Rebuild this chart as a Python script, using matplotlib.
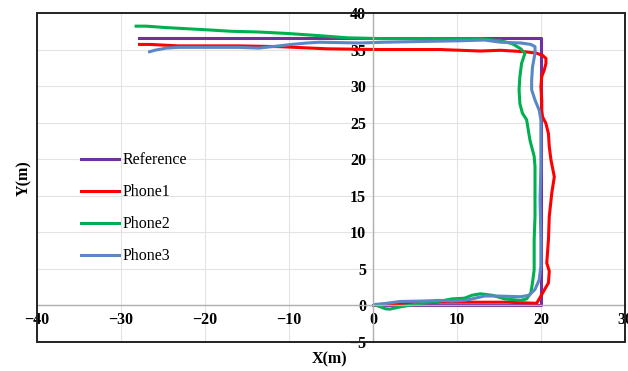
import matplotlib
matplotlib.use('Agg')
import matplotlib.pyplot as plt
from matplotlib.patches import Rectangle

plt.rcParams['font.family'] = ['Liberation Serif', 'DejaVu Serif']

# trajectories (m)
ref_x = [0, 20, 20, -27.8]
ref_y = [0, 0, 36.6, 36.6]

p1_x = [0.3, 2.5, 5.0, 8.0, 12.0, 16.0, 19.5, 20.2, 20.9, 21.0, 20.7, 20.9, 21.0, 21.3, 21.6, 21.2,
        21.0, 20.9, 20.6, 20.2, 20.1, 20.1, 20.0, 20.1, 20.4, 20.6, 20.6, 20.2, 19.5, 18.1, 15.2,
        12.8, 8.0, 0.8, -5.4, -11.2, -16.0, -23.2, -26.5, -27.8]
p1_y = [0.1, 0.25, 0.35, 0.45, 0.45, 0.45, 0.3, 1.7, 3.1, 4.7, 5.8, 9.0, 12.2, 15.4, 17.6, 19.9,
        21.7, 23.5, 24.9, 25.8, 26.7, 28.1, 29.9, 31.3, 32.2, 33.1, 33.8, 34.2, 34.5, 34.7, 34.9,
        34.8, 35.0, 35.0, 35.1, 35.4, 35.5, 35.5, 35.7, 35.7]

p2_x = [0.2, 1.5, 2.0, 3.2, 5.6, 8.0, 9.4, 10.9, 11.8, 12.8, 14.2, 15.7, 17.6, 18.3, 18.8, 19.0,
        19.2, 19.2, 19.3, 19.3, 19.3, 19.2, 18.9, 18.7, 18.5, 18.3, 17.8, 17.5, 17.4, 17.5, 17.7,
        18.1, 17.6, 16.6, 15.2, 12.8, 8.0, 0.8, -3.0, -6.4, -10.2, -13.6, -16.9, -19.8, -24.6,
        -27.0, -28.2]
p2_y = [0.1, -0.45, -0.5, -0.2, 0.27, 0.6, 0.9, 1.0, 1.4, 1.6, 1.4, 0.9, 0.7, 0.9, 1.7, 3.1,
        4.9, 9.0, 12.2, 16.3, 19.0, 20.4, 21.7, 22.6, 24.0, 25.4, 26.3, 27.6, 29.5, 31.3, 33.1,
        34.5, 35.1, 35.8, 36.2, 36.5, 36.5, 36.5, 36.6, 36.9, 37.2, 37.4, 37.5, 37.7, 38.0,
        38.2, 38.2]

p3_x = [0.3, 1.3, 3.2, 5.6, 8.0, 9.4, 10.9, 11.8, 13.3, 14.7, 17.6, 18.6, 19.3, 19.8, 20.0, 20.0,
        19.9, 20.0, 20.0, 20.0, 19.8, 19.3, 18.9, 18.9, 19.0, 19.3, 19.3, 18.8, 17.6, 15.2, 13.3,
        10.4, 5.6, 1.3, -1.6, -6.4, -7.8, -9.7, -11.2, -13.6, -16.0, -18.4, -23.2, -24.6, -26.0,
        -26.6]
p3_y = [0.15, 0.25, 0.55, 0.6, 0.7, 0.6, 0.7, 0.9, 1.3, 1.3, 1.2, 1.4, 2.2, 3.5, 5.4, 9.0,
        14.5, 19.0, 22.7, 25.4, 26.7, 28.1, 29.5, 30.8, 32.6, 34.5, 35.4, 35.7, 35.9, 36.0, 36.3,
        36.2, 36.1, 36.0, 35.9, 36.0, 35.9, 35.7, 35.5, 35.2, 35.3, 35.3, 35.3, 35.2, 34.9,
        34.7]

x_ticks = [-40, -30, -20, -10, 0, 10, 20, 30]
y_ticks = [-5, 0, 5, 10, 15, 20, 25, 30, 35, 40]

fig = plt.figure(figsize=(6.28, 3.71), dpi=100)
ax = fig.add_axes([0.059, 0.078, 0.936, 0.887])

ax.plot(ref_x, ref_y, color='#7030A0', lw=2.2, label='Reference')
ax.plot(p1_x, p1_y, color='#FF0000', lw=2.2, label='Phone1')
ax.plot(p2_x, p2_y, color='#00B050', lw=2.2, label='Phone2')
ax.plot(p3_x, p3_y, color='#5A87C6', lw=2.2, label='Phone3')

ax.set_xlim(-40, 30)
ax.set_ylim(-5, 40)
ax.set_xticks(x_ticks)
ax.set_yticks(y_ticks)
ax.grid(color='#e3e3e3', lw=0.8)
ax.set_axisbelow(True)

# axes cross at the origin
for s in ['left', 'bottom']:
    ax.spines[s].set_position(('data', 0))
    ax.spines[s].set_color('#b0b0b0')
    ax.spines[s].set_linewidth(1.0)
for s in ['top', 'right']:
    ax.spines[s].set_visible(False)
ax.tick_params(length=0, labelsize=11.5, pad=5)
for lab in ax.get_xticklabels() + ax.get_yticklabels():
    lab.set_fontweight('bold')

# outer frame
ax.add_patch(Rectangle((0, 0), 1, 1, transform=ax.transAxes, fill=False,
                       edgecolor='#222222', lw=1.4, clip_on=False, zorder=5))

fig.text(0.525, 0.01, 'X(m)', ha='center', va='bottom', fontsize=11.5, fontweight='bold')
fig.text(0.038, 0.52, 'Y(m)', ha='center', va='center', rotation=90, fontsize=11.5, fontweight='bold')

ax.legend(loc='upper left', bbox_to_anchor=(0.05, 0.62), frameon=False, fontsize=11.5,
          handlelength=2.4, handletextpad=0.2, labelspacing=1.0)

fig.savefig('out.png', dpi=100)
